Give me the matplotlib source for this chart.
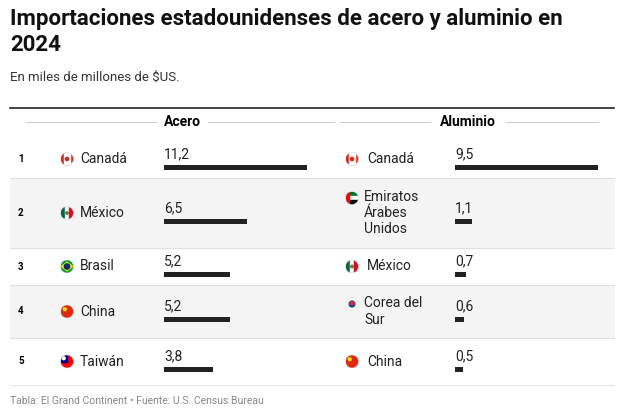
import matplotlib.pyplot as plt
from matplotlib.patches import Circle, Rectangle, Polygon

plt.rcParams['font.family'] = ['Roboto', 'DejaVu Sans']

ranks = [1, 2, 3, 4, 5]
steel_names = ["Canadá", "México", "Brasil", "China", "Taiwán"]
steel_vals = [11.2, 6.5, 5.2, 5.2, 3.8]
steel_flags = ["ca", "mx", "br", "cn", "tw"]
alu_names = ["Canadá", "Emiratos\nÁrabes\nUnidos", "México", "Corea del\nSur", "China"]
alu_vals = [9.5, 1.1, 0.7, 0.6, 0.5]
alu_flags = ["ca", "ae", "mx", "kr", "cn"]

# row bounds in pixels
row_top = [140, 178, 248, 285, 338]
row_bot = [178, 248, 285, 338, 385]

fig = plt.figure(figsize=(6.24, 4.16), dpi=100)
ax = fig.add_axes([0, 0, 1, 1])
ax.set_xlim(0, 624)
ax.set_ylim(416, 0)
ax.axis('off')

def flag(cx, cy, kind, r=6.5):
    clip = Circle((cx, cy), r, transform=ax.transData)
    x0, y0 = cx - r, cy - r
    d = 2 * r
    if kind == "ca":
        parts = [Rectangle((x0, y0), d, d, color="#d52b1e"),
                 Rectangle((cx - r / 2, y0), r, d, color="white"),
                 Circle((cx, cy), r * 0.25, color="#d52b1e")]
    elif kind == "mx":
        parts = [Rectangle((x0, y0), d / 3, d, color="#006847"),
                 Rectangle((x0 + d / 3, y0), d / 3, d, color="white"),
                 Rectangle((x0 + 2 * d / 3, y0), d / 3, d, color="#ce1126"),
                 Circle((cx, cy), r * 0.2, color="#8c6d3f")]
    elif kind == "br":
        parts = [Rectangle((x0, y0), d, d, color="#009c3b"),
                 Polygon([(cx - r * 0.85, cy), (cx, cy - r * 0.65), (cx + r * 0.85, cy), (cx, cy + r * 0.65)], color="#ffdf00"),
                 Circle((cx, cy), r * 0.4, color="#002776")]
    elif kind == "cn":
        parts = [Rectangle((x0, y0), d, d, color="#de2910"),
                 Circle((cx - r * 0.35, cy - r * 0.35), r * 0.22, color="#ffde00")]
    elif kind == "tw":
        parts = [Rectangle((x0, y0), d, d, color="#fe0000"),
                 Rectangle((x0, y0), r, r, color="#000095"),
                 Circle((cx - r / 2, cy - r / 2), r * 0.22, color="white")]
    elif kind == "ae":
        parts = [Rectangle((x0, y0), d, d / 3, color="#00732f"),
                 Rectangle((x0, y0 + d / 3), d, d / 3, color="white"),
                 Rectangle((x0, y0 + 2 * d / 3), d, d / 3, color="black"),
                 Rectangle((x0, y0), d * 0.3, d, color="#ff0000")]
    else:  # kr
        parts = [Rectangle((x0, y0), d, d, color="white"),
                 Circle((cx, cy), r * 0.45, color="#0047a0"),
                 Rectangle((cx - r * 0.45, cy - r * 0.45), r * 0.9, r * 0.45, color="#cd2e3a")]
    inner = Circle((cx, cy), r * 0.45, transform=ax.transData)
    for p in parts:
        ax.add_patch(p)
        p.set_clip_path(inner if (kind == "kr" and p is parts[2]) else clip)
    ax.add_patch(Circle((cx, cy), r, fill=False, ec="#dddddd", lw=0.4))

# titles
ax.text(10, 32, "Importaciones estadounidenses de acero y aluminio en\n2024",
        fontsize=16, fontweight='bold', va='center', ha='left', color="#111111", linespacing=1.2)
ax.text(10, 77, "En miles de millones de $US.", fontsize=9.5, va='center', color="#333333")

# header
ax.plot([10, 614], [108, 108], color="#222222", lw=1.2)
ax.text(182, 122, "Acero", fontsize=10, fontweight='bold', ha='center', va='center')
ax.plot([26, 156], [122, 122], color="#cccccc", lw=0.8)
ax.plot([208, 334], [122, 122], color="#cccccc", lw=0.8)
ax.text(468, 122, "Aluminio", fontsize=10, fontweight='bold', ha='center', va='center')
ax.plot([340, 430], [122, 122], color="#cccccc", lw=0.8)
ax.plot([506, 598], [122, 122], color="#cccccc", lw=0.8)

for i in range(5):
    top, bot = row_top[i], row_bot[i]
    cy = (top + bot) / 2
    if i % 2 == 1:
        ax.add_patch(Rectangle((10, top), 604, bot - top, color="#f4f4f4", zorder=0))
    ax.plot([10, 614], [bot, bot], color="#dddddd", lw=0.6)
    ax.text(18, cy, str(ranks[i]), fontsize=7, fontweight='bold', ha='left', va='center')
    flag(67, cy, steel_flags[i])
    ax.text(80, cy, steel_names[i], fontsize=10, va='center', color="#222222")
    nl = alu_names[i].count("\n")
    flag(352, cy - 7.5 * nl, alu_flags[i])
    ax.text(364 if nl else 367, cy, alu_names[i], fontsize=10, va='center', color="#222222", linespacing=1.2)

# bar columns
def bar_col(left_px, width_px, vals):
    bx = fig.add_axes([left_px / 624, 0, width_px / 624, 1])
    bx.set_xlim(0, max(vals))
    bx.set_ylim(416, 0)
    bx.axis('off')
    for i, v in enumerate(vals):
        cy = (row_top[i] + row_bot[i]) / 2
        bx.barh(cy + 8, v, height=5, color="#222222", left=0)
        bx.text(0, cy - 5, f"{v:.1f}".replace(".", ","), fontsize=10, va='center', ha='left', color="#222222")

bar_col(164, 143, steel_vals)
bar_col(455, 143, alu_vals)

ax.text(10, 401, "Tabla: El Grand Continent • Fuente: U.S. Census Bureau", fontsize=7.5, color="#888888", va='center')

fig.savefig("out.png", dpi=100)
